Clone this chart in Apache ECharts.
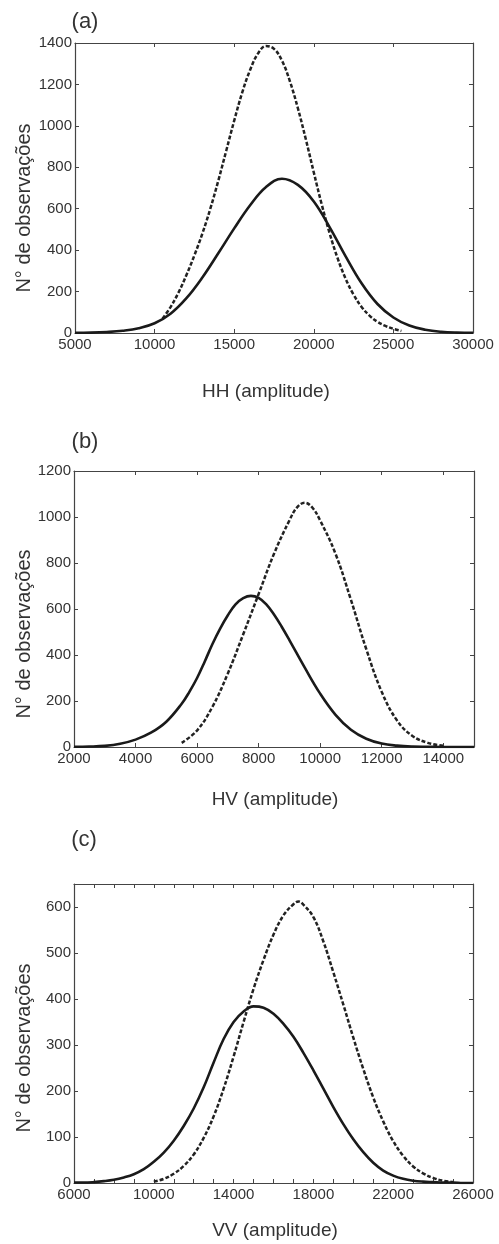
<!DOCTYPE html>
<html>
<head>
<meta charset="utf-8">
<script src="https://cdn.jsdelivr.net/npm/echarts@6/dist/echarts.min.js"></script>
<style>
html,body{margin:0;padding:0;background:#fff;}
#chart{width:499px;height:1244px;}
</style>
</head>
<body>
<div id="chart"></div>
<script>
// ---- Panel (a) HH ----
const aSolidX = [5000,6000,7000,8000,9000,10000,11000,12000,13000,14000,15000,16000,17000,18000,19000,20000,21000,22000,23000,24000,25000,26000,27000,28000,29000,30000];
const aSolidY = [1,2,5,11,23,47,93,168,268,385,505,617,705,745,715,635,510,370,240,140,75,36,16,6,2,1];
const aDashX = [10500,11000,11500,12000,12500,13000,13500,14000,14500,15000,15500,16000,16500,17000,17500,18000,18500,19000,19500,20000,20500,21000,21500,22000,22500,23000,23500,24000,24500,25000,25500];
const aDashY = [70,125,195,280,375,480,600,735,880,1025,1160,1270,1350,1385,1372,1315,1215,1085,935,775,620,480,360,262,185,126,84,54,34,20,10];

// ---- Panel (b) HV ----
const bSolidX = [2000,2500,3000,3500,4000,4500,5000,5500,5750,6000,6250,6500,6750,7000,7250,7500,7750,8000,8250,8500,8750,9000,9500,10000,10500,11000,11500,12000,12500,13000,13500,14000,14500,15000];
const bSolidY = [1,2,5,14,32,62,110,188,240,300,372,448,515,573,620,647,657,648,620,576,523,465,345,232,140,75,36,15,6,2,1,0,0,0];
const bDashX = [5500,6000,6500,7000,7500,8000,8500,9000,9250,9500,9750,10000,10500,11000,11500,12000,12500,13000,13500,14000];
const bDashY = [18,72,175,320,490,665,840,985,1042,1062,1040,985,840,640,425,240,115,48,18,5];

// ---- Panel (c) VV ----
const cSolidX = [6000,6500,7000,7500,8000,8500,9000,9500,10000,10500,11000,11500,12000,12500,13000,13500,14000,14500,15000,15500,16000,16500,17000,17500,18000,18500,19000,19500,20000,20500,21000,21500,22000,22500,23000,23500,24000,24500,25000,25500,26000];
const cSolidY = [1,1,2,4,7,12,19,30,46,66,92,124,162,208,262,313,350,373,384,381,368,346,318,283,245,205,165,128,95,67,44,27,16,9,5,3,2,1,1,0,0];
const cDashX = [10000,10500,11000,11500,12000,12500,13000,13500,14000,14500,15000,15500,16000,16500,17000,17250,17500,18000,18500,19000,19500,20000,20500,21000,21500,22000,22500,23000,23500,24000,24500,25000];
const cDashY = [3,9,20,37,62,98,145,205,275,350,422,485,540,582,606,612,605,578,525,458,388,316,248,186,134,91,59,36,21,11,5,2];

// ---- Text ----
const panelLetters = ['(a)','(b)','(c)'];
const xTitles = ['HH (amplitude)','HV (amplitude)','VV (amplitude)'];
const yTitle = 'N\u00b0 de observa\u00e7\u00f5es';

const zip = (xs, ys) => xs.map((x, i) => [x, ys[i]]);

const grids = [
  {left:75, top:43, width:398, height:290},
  {left:74, top:471, width:400, height:276},
  {left:74, top:884, width:399, height:299}
];
const axSpec = [
  {xmin:5000, xmax:30000, xint:5000, xlab:v=>String(v), ymin:0, ymax:1400, yint:200},
  {xmin:2000, xmax:15000, xint:2000, xlab:v=>(v<=14000?String(v):''), ymin:0, ymax:1200, yint:200},
  {xmin:6000, xmax:26000, xint:1000, xlab:v=>((v-6000)%4000===0?String(v):''), ymin:0, ymax:650, yint:100}
];

const FONT = 'Liberation Sans, Arial, sans-serif';
const lineCol = '#444';
const textCol = '#333';

const xAxes = [], yAxes = [];
axSpec.forEach((s, g) => {
  const base = {type:'value', gridIndex:g, min:s.xmin, max:s.xmax, interval:s.xint,
    splitLine:{show:false},
    axisLine:{show:true, onZero:false, lineStyle:{color:lineCol, width:1.2}},
    axisTick:{show:true, inside:true, length:4, lineStyle:{color:lineCol}}};
  xAxes.push(Object.assign({}, base, {position:'bottom',
    axisLabel:{show:true, margin:4, color:textCol, fontSize:15, fontFamily:FONT, formatter:s.xlab}}));
  xAxes.push(Object.assign({}, base, {position:'top', axisLabel:{show:false}}));
  const ybase = {type:'value', gridIndex:g, min:s.ymin, max:s.ymax, interval:s.yint,
    splitLine:{show:false},
    axisLine:{show:true, onZero:false, lineStyle:{color:lineCol, width:1.2}},
    axisTick:{show:true, inside:true, length:4, lineStyle:{color:lineCol}}};
  yAxes.push(Object.assign({}, ybase, {position:'left',
    axisLabel:{show:true, margin:3, color:textCol, fontSize:15, fontFamily:FONT,
      formatter:v=>(v % s.yint === 0 ? String(v) : '')}}));
  yAxes.push(Object.assign({}, ybase, {position:'right', axisLabel:{show:false}}));
});

const solidStyle = {color:'#1a1a1a', width:2.6};
const dashStyle = {color:'#222', width:2.5, type:[4,2]};
const allData = [
  [zip(aSolidX, aSolidY), zip(aDashX, aDashY)],
  [zip(bSolidX, bSolidY), zip(bDashX, bDashY)],
  [zip(cSolidX, cSolidY), zip(cDashX, cDashY)]
];
const series = [];
allData.forEach((pair, g) => {
  series.push({type:'line', xAxisIndex:2*g, yAxisIndex:2*g, data:pair[1], smooth:0.4,
    showSymbol:false, lineStyle:dashStyle, silent:true, z:2});
  series.push({type:'line', xAxisIndex:2*g, yAxisIndex:2*g, data:pair[0], smooth:0.4,
    showSymbol:false, lineStyle:solidStyle, silent:true, z:3});
});

const letterPos = [[85,22],[85,442],[84,840]];
const xTitlePos = [[266,392],[275,800],[275,1231]];
const yTitlePos = [[24,208],[24,634],[24,1048]];
const graphic = [];
for (let i = 0; i < 3; i++) {
  graphic.push({type:'text', x:letterPos[i][0], y:letterPos[i][1],
    style:{text:panelLetters[i], font:'22px ' + FONT, fill:textCol, textAlign:'center', textVerticalAlign:'middle'}});
  graphic.push({type:'text', x:xTitlePos[i][0], y:xTitlePos[i][1],
    style:{text:xTitles[i], font:'19px ' + FONT, fill:textCol, textAlign:'center', textVerticalAlign:'middle'}});
  graphic.push({type:'text', x:yTitlePos[i][0], y:yTitlePos[i][1], rotation:Math.PI/2,
    style:{text:yTitle, font:'20px ' + FONT, fill:textCol, textAlign:'center', textVerticalAlign:'middle'}});
}

const chart = echarts.init(document.getElementById('chart'), null, {renderer:'canvas'});
chart.setOption({
  animation:false,
  backgroundColor:'#fff',
  grid:grids,
  xAxis:xAxes,
  yAxis:yAxes,
  series:series,
  graphic:graphic
});
</script>
</body>
</html>
